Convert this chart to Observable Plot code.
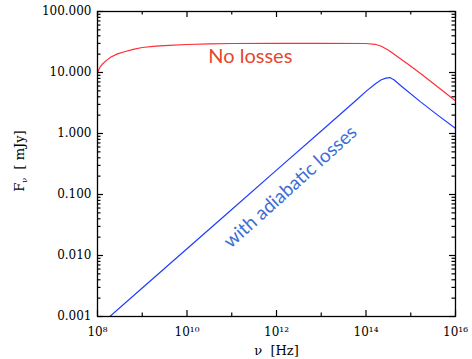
<!DOCTYPE html>
<html><head><meta charset="utf-8">
<script src="https://cdn.jsdelivr.net/npm/d3@7"></script>
<script src="https://cdn.jsdelivr.net/npm/@observablehq/plot@0.6"></script>
<style>body{margin:0;background:#fff}</style>
</head><body><div id="chart"></div>
<script>
// "No losses" curve (frequency in Hz, flux in mJy)
const redNu = [1e8, 1.12e8, 1.26e8, 1.58e8, 2e8, 2.8e8, 4e8, 6.3e8, 1e9, 2e9, 4e9, 1e10, 3.2e10, 1e11, 1e12, 1e13, 1e14, 1.6e14, 2.2e14, 3.2e14, 5e14, 8e14, 1.6e15, 3.2e15, 5.6e15, 1e16];
const redF  = [10, 12.0, 13.5, 15.8, 18.0, 20.2, 21.9, 24.0, 25.7, 27.0, 27.9, 28.8, 29.5, 29.9, 30.0, 30.0, 29.9, 29.0, 26.9, 23.2, 18.3, 14.3, 9.8, 6.6, 4.8, 3.42];
// "with adiabatic losses" curve
const blueNu = [1e8, 1e9, 1e10, 1e11, 1e12, 1e13, 6.3e13, 1e14, 1.6e14, 2.2e14, 2.8e14, 3.4e14, 4.2e14, 6.3e14, 1.66e15, 4e15, 1e16];
const blueF  = [0.000665, 0.00293, 0.0129, 0.0569, 0.251, 1.10, 3.6, 4.9, 6.5, 7.6, 8.1, 8.26, 7.6, 5.9, 3.3, 2.0, 1.21];

const xMajor = [1e8, 1e10, 1e12, 1e14, 1e16];
const xMajorLabels = ["10⁸", "10¹⁰", "10¹²", "10¹⁴", "10¹⁶"];
const xMinor = [1e9, 1e11, 1e13, 1e15];
const yMajor = [0.001, 0.01, 0.1, 1, 10, 100];
const yMajorLabels = ["0.001", "0.010", "0.100", "1.000", "10.000", "100.000"];
const yMinorMantissa = [2, 3, 4, 5, 6, 7, 8, 9];
const yDecades = [0.001, 0.01, 0.1, 1, 10];

const noteText = ["No losses", "with adiabatic losses"];
const noteNu = [2.6e11, 2.05e12];
const noteF = [18.4, 0.133];

const red = redNu.map((nu, i) => ({nu, F: redF[i]}));
const blue = blueNu.map((nu, i) => ({nu, F: blueF[i]}));
const yMinor = yDecades.flatMap(d => yMinorMantissa.map(m => m * d));

const W = 472, H = 359, mL = 97, mR = 17, mT = 11, mB = 43;
const fw = W - mL - mR, fh = H - mT - mB;
const majorLen = 6, minorLen = 3.5;

const chart = Plot.plot({
  width: W, height: H,
  marginLeft: mL, marginRight: mR, marginTop: mT, marginBottom: mB,
  style: {fontFamily: "'DejaVu Serif', serif", fontSize: "12px", background: "#fff", color: "#000"},
  x: {type: "log", domain: [1e8, 1e16], axis: null},
  y: {type: "log", domain: [0.001, 100], axis: null},
  marks: [
    Plot.line(red, {x: "nu", y: "F", stroke: "#ff2d36", strokeWidth: 1.2, clip: true}),
    Plot.line(blue, {x: "nu", y: "F", stroke: "#1f3dff", strokeWidth: 1.2, clip: true}),
    // annotations
    Plot.text([0], {x: i => noteNu[i], y: i => noteF[i], text: i => noteText[i], fill: "#e5472f", fontFamily: "Lato, 'Open Sans', sans-serif", fontSize: 20}),
    Plot.text([1], {x: i => noteNu[i], y: i => noteF[i], text: i => noteText[i], fill: "#3b6fd6", fontFamily: "Lato, 'Open Sans', sans-serif", fontSize: 19, rotate: -42}),
    // tick labels (text marks on the scales)
    Plot.text(xMajor, {x: d => d, frameAnchor: "bottom", dy: 16, lineAnchor: "middle", textAnchor: "middle", text: (d, i) => xMajorLabels[i], fill: "#000", fontSize: 12, letterSpacing: "1px"}),
    Plot.text(yMajor, {y: d => d, frameAnchor: "left", dx: -6, lineAnchor: "middle", textAnchor: "end", text: (d, i) => yMajorLabels[i], fill: "#000", fontSize: 12, letterSpacing: "1px"}),
    Plot.text(["ν  [Hz]"], {frameAnchor: "bottom", dy: 38, text: d => d, lineAnchor: "bottom", fontSize: 13, letterSpacing: "0.5px", fill: "#000"}),
    Plot.frame({stroke: "#000", strokeWidth: 1.3}),
    // bottom / top ticks (inward)
    Plot.ruleX(xMajor, {x: d => d, insetTop: fh - majorLen, stroke: "#000", strokeWidth: 1.2}),
    Plot.ruleX(xMinor, {x: d => d, insetTop: fh - minorLen, stroke: "#000", strokeWidth: 1.2}),
    Plot.ruleX(xMajor, {x: d => d, insetBottom: fh - majorLen, stroke: "#000", strokeWidth: 1.2}),
    Plot.ruleX(xMinor, {x: d => d, insetBottom: fh - minorLen, stroke: "#000", strokeWidth: 1.2}),
    // left / right ticks (inward)
    Plot.ruleY(yMajor, {y: d => d, insetRight: fw - majorLen, stroke: "#000", strokeWidth: 1.2}),
    Plot.ruleY(yMinor, {y: d => d, insetRight: fw - minorLen, stroke: "#000", strokeWidth: 1.2}),
    Plot.ruleY(yMajor, {y: d => d, insetLeft: fw - majorLen, stroke: "#000", strokeWidth: 1.2}),
    Plot.ruleY(yMinor, {y: d => d, insetLeft: fw - minorLen, stroke: "#000", strokeWidth: 1.2})
  ]
});
document.getElementById("chart").append(chart);

// y-axis title with subscript
const svg = d3.select(chart);
const title = svg.append("text")
  .attr("transform", "translate(24,161) rotate(-90)")
  .attr("text-anchor", "middle")
  .attr("font-family", "'DejaVu Serif', serif")
  .attr("font-size", 13)
  .attr("fill", "#000")
  .style("white-space", "pre");
title.append("tspan").text("F");
title.append("tspan").attr("font-size", 8).attr("dy", 3).text("ν");
title.append("tspan").attr("dy", -3).text("  [ mJy]");
</script>
</body></html>
